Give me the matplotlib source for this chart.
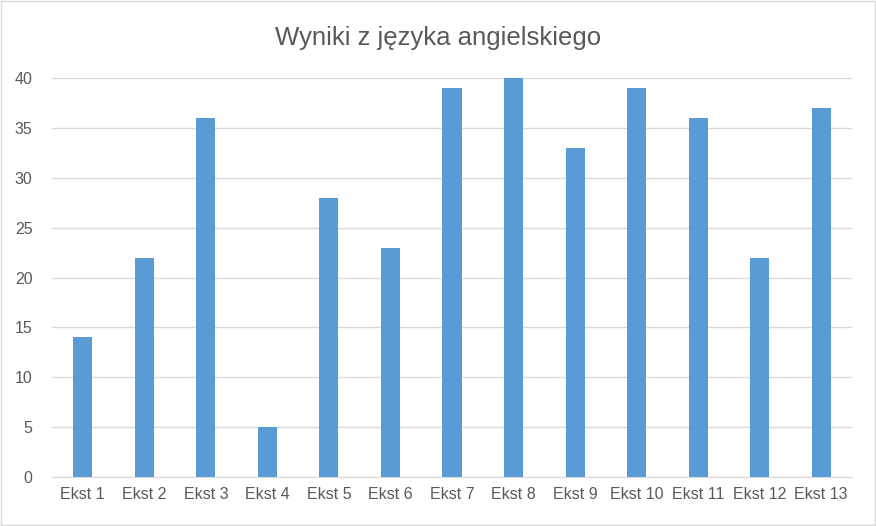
import matplotlib.pyplot as plt

# data
categories = ["Ekst 1", "Ekst 2", "Ekst 3", "Ekst 4", "Ekst 5", "Ekst 6", "Ekst 7",
              "Ekst 8", "Ekst 9", "Ekst 10", "Ekst 11", "Ekst 12", "Ekst 13"]
scores = [14, 22, 36, 5, 28, 23, 39, 40, 33, 39, 36, 22, 37]
y_ticks = [0, 5, 10, 15, 20, 25, 30, 35, 40]

plt.rcParams['font.family'] = ['Liberation Sans', 'DejaVu Sans']
text_color = "#595959"

fig = plt.figure(figsize=(8.76, 5.26), dpi=100)
ax = fig.add_axes([52 / 876, 1 - 477 / 526, 800 / 876, 399 / 526])

x = range(len(categories))
ax.bar(x, scores, width=0.31, color="#5B9BD5", zorder=3)

ax.set_xlim(-0.5, len(categories) - 0.5)
ax.set_ylim(0, 40)
ax.set_yticks(y_ticks)
ax.set_xticks(list(x))
ax.set_xticklabels(categories)
ax.grid(axis="y", color="#D9D9D9", linewidth=1, zorder=0)

for side in ["top", "right", "left"]:
    ax.spines[side].set_visible(False)
ax.spines["bottom"].set_color("#D9D9D9")
ax.tick_params(axis="both", length=0, colors=text_color, labelsize=11.5)
ax.tick_params(axis="y", pad=14)
ax.tick_params(axis="x", pad=7)

fig.text(0.5, 1 - 38 / 526, "Wyniki z języka angielskiego", ha="center", va="center",
         fontsize=18.5, color=text_color)

# outer frame
fig.patches.append(plt.Rectangle((0.0006, 0.001), 0.9988, 0.998, transform=fig.transFigure,
                                 fill=False, edgecolor="#D9D9D9", linewidth=1))

fig.savefig("out.png", dpi=100)
